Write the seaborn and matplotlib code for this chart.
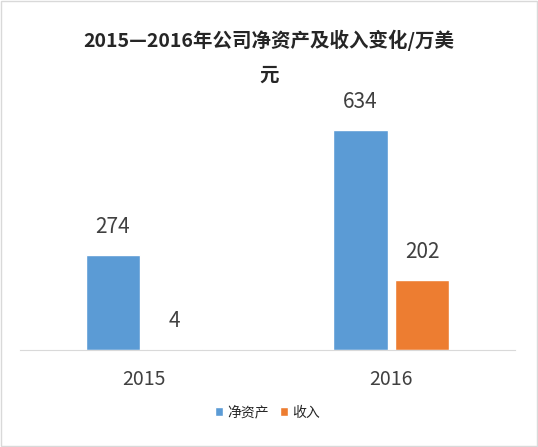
import pandas as pd
import matplotlib.pyplot as plt
import seaborn as sns
from matplotlib.patches import Rectangle

years = ['2015', '2016']
net_assets = [274, 634]
income = [4, 202]
series_names = ['净资产', '收入']

df = pd.DataFrame({
    'year': years * 2,
    'series': [series_names[0]] * 2 + [series_names[1]] * 2,
    'value': net_assets + income,
})

sns.set_style('white')
plt.rcParams['font.family'] = ['Noto Sans CJK SC', 'DejaVu Sans']

fig = plt.figure(figsize=(5.38, 4.47), dpi=100)
ax = fig.add_axes([20 / 538, 97 / 447, 495 / 538, 270 / 447])
sns.barplot(data=df, x='year', y='value', hue='series', ax=ax,
            palette=['#5B9BD5', '#ED7D31'], width=0.5, gap=0.12,
            saturation=1)
ax.set_xlim(-0.5, 1.5)
ax.set_ylim(0, 778)
ax.set_yticks([])
ax.set_xlabel('')
ax.set_ylabel('')
for s in ['top', 'left', 'right']:
    ax.spines[s].set_visible(False)
ax.spines['bottom'].set_color('#d9d9d9')
ax.set_xticks([-0.5, 0.5, 1.5], minor=True)
ax.tick_params(axis='x', which='minor', length=5, color='#d9d9d9')
ax.tick_params(axis='x', which='major', length=0, labelsize=14, pad=14, labelcolor='#404040')

for c in ax.containers:
    ax.bar_label(c, fmt='%d', padding=12, fontsize=15, color='#404040')

ax.legend(loc='upper center', bbox_to_anchor=(0.5, -0.16), ncol=2, frameon=False,
          fontsize=10, handlelength=0.6, handleheight=0.6, columnspacing=0.8,
          handletextpad=0.3)

fig.text(0.5, 1 - 40 / 447, '2015—2016年公司净资产及收入变化/万美', ha='center', va='center',
         fontsize=14, fontweight='bold')
fig.text(0.5, 1 - 75 / 447, '元', ha='center', va='center', fontsize=14, fontweight='bold')
fig.patches.append(Rectangle((0.002, 0.002), 0.996, 0.996, transform=fig.transFigure,
                             fill=False, edgecolor='#d9d9d9', linewidth=1))

fig.savefig('out.png', dpi=100)
